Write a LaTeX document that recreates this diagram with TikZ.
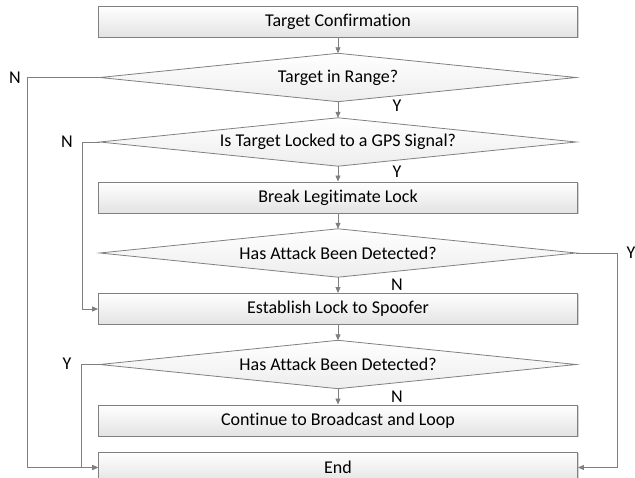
\documentclass[tikz,border=0pt]{standalone}
\usepackage{fontspec}
\setmainfont{Carlito}[Ligatures=CommonOff]
\usetikzlibrary{arrows.meta,shadows}
\definecolor{linec}{HTML}{7F7F7F}
\definecolor{borderc}{HTML}{808080}
\begin{document}
\begin{tikzpicture}[x=1pt,y=-1pt,
  proc/.style={rectangle,draw=borderc,line width=0.9pt,top color=white,bottom color=gray!22,
    minimum width=479pt,minimum height=31pt,inner sep=0pt,font=\fontsize{18}{20}\selectfont,
    drop shadow={shadow xshift=1pt,shadow yshift=-1pt,opacity=0.35,fill=gray}},
  dec/.style={rectangle,minimum width=476pt,minimum height=48pt,inner sep=0pt,
    font=\fontsize{18}{20}\selectfont},
  decshape/.style={draw=borderc,line width=0.8pt,top color=white,bottom color=gray!14},
  conn/.style={draw=linec,line width=0.9pt,-{Triangle[length=6pt,width=5pt]}},
  lab/.style={font=\fontsize{18}{20}\selectfont,inner sep=0pt}]
\useasboundingbox (0,0) rectangle (635,478);
\begin{scope}
\clip (0,0) rectangle (635,478);
\node[proc] (tc) at (338,22) {Target Confirmation};
\node[dec] (d1) at (338,77.5) {};
\node[dec] (d2) at (338,142) {};
\node[proc] (bl) at (338,197.5) {Break Legitimate Lock};
\node[dec] (d3) at (338,253) {};
\node[proc] (es) at (338,309) {Establish Lock to Spoofer};
\node[dec] (d4) at (338,364.5) {};
\node[proc] (cb) at (338,420.5) {Continue to Broadcast and Loop};
\node[proc] (en) at (338,467.5) {End};

\foreach \d in {d1,d2,d3,d4}{
  \path[decshape] (\d.west) -- (\d.north) -- (\d.east) -- (\d.south) -- cycle;
}
\node[font=\fontsize{18}{20}\selectfont] (t1) at (d1) {Target in Range?};
\node[font=\fontsize{18}{20}\selectfont] (t2) at (d2) {Is Target Locked to a GPS Signal?};
\node[font=\fontsize{18}{20}\selectfont] (t3) at (d3) {Has Attack Been Detected?};
\node[font=\fontsize{18}{20}\selectfont] (t4) at (d4) {Has Attack Been Detected?};

\draw[conn] (tc.south) -- (d1.north);
\draw[conn] (d1.south) -- (d2.north);
\draw[conn] (d2.south) -- (bl.north);
\draw[conn] (bl.south) -- (d3.north);
\draw[conn] (d3.south) -- (es.north);
\draw[conn] (es.south) -- (d4.north);
\draw[conn] (d4.south) -- (cb.north);

\draw[conn] (d1.west) -- ++(-72,0) coordinate (c1) |- (en.west);
\draw[conn] (d2.west) -- ++(-17,0) coordinate (c2) |- (es.west);
\draw[conn] (d4.west) -- ++(-18,0) coordinate (c4) |- (en.west);
\draw[conn] (d3.east) -- ++(41,0) coordinate (c3) |- (en.east);

\node[lab] (n1) at (15,78) {N};
\node[lab] (n2) at (67,142) {N};
\node[lab] (y1) at (397,106) {Y};
\node[lab] (y2) at (397,172) {Y};
\node[lab] (y3) at (631,253) {Y};
\node[lab] (n3) at (397,285) {N};
\node[lab] (y4) at (67,364) {Y};
\node[lab] (n4) at (397,397) {N};
\end{scope}
\end{tikzpicture}
\end{document}
